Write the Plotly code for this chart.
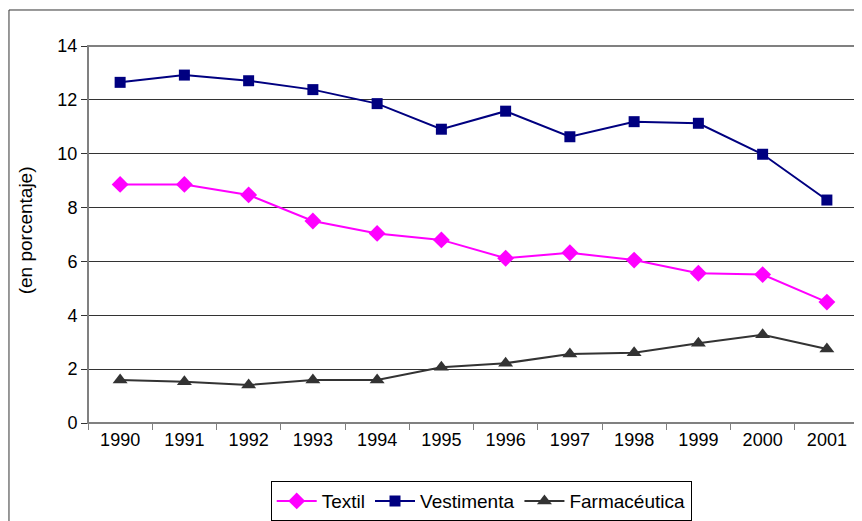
import plotly.graph_objects as go

years = ["1990", "1991", "1992", "1993", "1994", "1995", "1996", "1997", "1998", "1999", "2000", "2001"]
textil = [8.86, 8.86, 8.47, 7.50, 7.04, 6.80, 6.12, 6.32, 6.05, 5.56, 5.51, 4.49]
vestimenta = [12.65, 12.92, 12.71, 12.38, 11.86, 10.91, 11.58, 10.63, 11.19, 11.13, 9.98, 8.28]
farmaceutica = [1.60, 1.53, 1.41, 1.60, 1.60, 2.07, 2.22, 2.56, 2.61, 2.96, 3.28, 2.75]
y_ticks = [0, 2, 4, 6, 8, 10, 12, 14]

FONT = "Arial, Liberation Sans, sans-serif"
FS = 18

fig = go.Figure()
fig.add_trace(go.Scatter(x=years, y=textil, name="Textil", mode="lines+markers",
                         line=dict(color="#FF00FF", width=2),
                         marker=dict(symbol="diamond", size=13, color="#FF00FF")))
fig.add_trace(go.Scatter(x=years, y=vestimenta, name="Vestimenta", mode="lines+markers",
                         line=dict(color="#000080", width=2),
                         marker=dict(symbol="square", size=11, color="#000080")))
fig.add_trace(go.Scatter(x=years, y=farmaceutica, name="Farmacéutica", mode="lines+markers",
                         line=dict(color="#333333", width=2),
                         marker=dict(symbol="triangle-up", size=13, color="#333333")))

# page body has an 8px margin, so the figure is sized and placed to compensate
fig.update_layout(
    width=854, height=513,
    margin=dict(l=80, r=3, t=38, b=98, autoexpand=False),
    paper_bgcolor="white", plot_bgcolor="white",
    font=dict(family=FONT, size=FS, color="black"),
    showlegend=True,
    legend=dict(orientation="h", x=0.51, xanchor="center", y=-0.154, yanchor="top",
                bordercolor="black", borderwidth=1, font=dict(size=19),
                itemwidth=40, tracegroupgap=0),
    xaxis=dict(type="category", range=[-0.5, len(years) - 0.5], showgrid=False,
               ticks="outside", tickson="boundaries",
               ticklen=6, tickcolor="#808080", showline=True, linecolor="#808080",
               linewidth=1, tickfont=dict(size=FS), automargin=False),
    yaxis=dict(range=[0, 14], tickvals=y_ticks, showgrid=True, gridcolor="#333333",
               gridwidth=1, ticks="outside", ticklen=6, tickcolor="#333333",
               showline=True, linecolor="#333333", linewidth=1, zeroline=False,
               tickfont=dict(size=FS), automargin=False),
    annotations=[
        dict(text="(en porcentaje)", xref="paper", yref="paper", x=-0.081, y=0.51,
             textangle=-90, showarrow=False, xanchor="center", yanchor="middle",
             font=dict(size=19)),
    ],
    shapes=[
        dict(type="rect", xref="paper", yref="paper", x0=0, x1=1, y0=0, y1=1,
             line=dict(color="#808080", width=2), layer="above"),
        dict(type="rect", xref="paper", yref="paper", x0=-0.1025, x1=1.01, y0=-0.3, y1=1.0955,
             line=dict(color="#333333", width=1)),
    ],
)

fig.write_html("out.html")
